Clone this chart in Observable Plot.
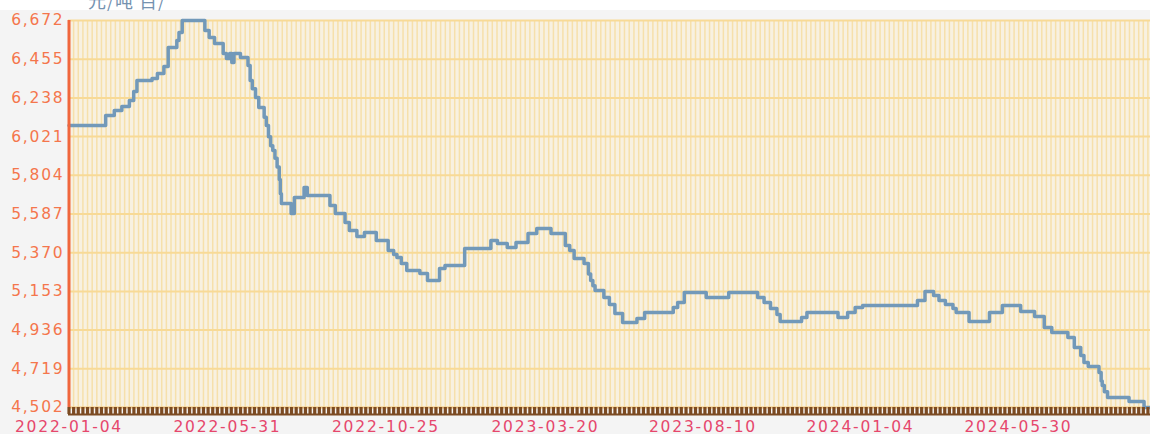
<!DOCTYPE html>
<html><head><meta charset="utf-8">
<script src="https://cdn.jsdelivr.net/npm/d3@7"></script>
<script src="https://cdn.jsdelivr.net/npm/@observablehq/plot@0.6"></script>
<style>
html,body{margin:0;padding:0;background:#f4f4f4;width:1150px;height:434px;overflow:hidden;}
#wrap{position:relative;width:1150px;height:434px;}
#topband{position:absolute;left:0;top:0;width:1150px;height:10px;background:#fff;}
#unit{position:absolute;left:88px;top:-13px;font:18px "Noto Sans CJK SC",sans-serif;color:#7592b0;z-index:2;letter-spacing:1px;}
#chart{position:absolute;left:0;top:0;}
</style></head><body>
<div id="wrap"><div id="topband"></div><div id="unit">元/吨 百/</div><div id="chart"></div></div>
<script>
const dates = ["2022-01-04","2022-02-07","2022-02-15","2022-02-22","2022-03-01","2022-03-05","2022-03-08","2022-03-22","2022-03-27","2022-04-02","2022-04-06","2022-04-14","2022-04-16","2022-04-19","2022-05-10","2022-05-14","2022-05-19","2022-05-27","2022-05-30","2022-06-02","2022-06-04","2022-06-06","2022-06-12","2022-06-19","2022-06-21","2022-06-23","2022-06-26","2022-06-29","2022-07-04","2022-07-06","2022-07-08","2022-07-10","2022-07-12","2022-07-14","2022-07-16","2022-07-18","2022-07-19","2022-07-20","2022-07-29","2022-08-01","2022-08-10","2022-08-13","2022-09-03","2022-09-08","2022-09-17","2022-09-21","2022-09-28","2022-10-05","2022-10-16","2022-10-27","2022-11-01","2022-11-04","2022-11-08","2022-11-13","2022-11-25","2022-12-02","2022-12-13","2022-12-18","2023-01-05","2023-01-29","2023-02-04","2023-02-13","2023-02-21","2023-03-04","2023-03-12","2023-03-25","2023-04-07","2023-04-11","2023-04-15","2023-04-24","2023-04-28","2023-04-30","2023-05-02","2023-05-04","2023-05-12","2023-05-17","2023-05-22","2023-05-29","2023-06-11","2023-06-18","2023-07-14","2023-07-18","2023-07-24","2023-08-13","2023-09-03","2023-09-30","2023-10-06","2023-10-12","2023-10-18","2023-10-21","2023-11-10","2023-11-15","2023-12-14","2023-12-23","2023-12-30","2024-01-06","2024-02-26","2024-03-04","2024-03-12","2024-03-17","2024-03-23","2024-03-30","2024-04-02","2024-04-14","2024-05-03","2024-05-15","2024-06-01","2024-06-14","2024-06-23","2024-06-30","2024-07-15","2024-07-21","2024-07-27","2024-07-30","2024-08-03","2024-08-13","2024-08-15","2024-08-16","2024-08-18","2024-08-21","2024-09-10","2024-09-24","2024-09-30"];
const values = [6083,6139,6167,6190,6223,6274,6336,6347,6375,6414,6521,6560,6605,6672,6616,6577,6543,6487,6459,6487,6437,6487,6465,6420,6336,6290,6240,6184,6130,6083,6020,5970,5943,5900,5850,5780,5700,5646,5590,5680,5736,5691,5635,5590,5539,5495,5461,5483,5438,5382,5360,5343,5309,5270,5253,5214,5281,5298,5394,5438,5422,5399,5427,5478,5506,5478,5410,5382,5338,5309,5250,5214,5185,5158,5119,5080,5029,4979,5001,5035,5063,5091,5147,5119,5147,5119,5091,5057,5024,4984,5007,5035,5007,5035,5063,5074,5102,5153,5130,5102,5080,5057,5035,4984,5035,5074,5040,5012,4951,4923,4895,4839,4794,4755,4732,4698,4650,4625,4590,4558,4536,4502,4502];
const xTickLabels = ["2022-01-04","2022-05-31","2022-10-25","2023-03-20","2023-08-10","2024-01-04","2024-05-30"];
const xEnd = "2024-09-30";
const yTicks = [4502,4719,4936,5153,5370,5587,5804,6021,6238,6455,6672];

const parse = d3.utcParse("%Y-%m-%d");
const data = dates.map((d, i) => ({date: parse(d), value: values[i]}));
const labelDates = xTickLabels.map(parse);
const start = labelDates[0], end = parse(xEnd);
const stripes = d3.range(+start, +end, 4.3 * 864e5).map(t => new Date(t));

const brown = "#7b4a22";
const chart = Plot.plot({
  width: 1150,
  height: 434,
  marginLeft: 68,
  marginRight: 0,
  marginTop: 20,
  marginBottom: 27,
  style: {fontFamily: "DejaVu Sans", fontSize: "15.5px", letterSpacing: "1.8px", background: "transparent", overflow: "visible"},
  x: {type: "utc", domain: [...labelDates, end], range: [68.5, 227, 385.5, 545, 702.5, 860, 1018, 1150], label: null},
  y: {domain: [4502, 6672], label: null},
  marks: [
    Plot.frame({fill: "#f8f1e1", stroke: "none"}),
    Plot.gridX(stripes, {stroke: "#f6e0ab", strokeOpacity: 1, strokeWidth: 1.5}),
    Plot.gridY(yTicks, {stroke: "#f8da96", strokeOpacity: 1, strokeWidth: 2}),
    Plot.ruleY([4502], {stroke: "#efc384", strokeWidth: 1.5}),
    Plot.line(data, {x: "date", y: "value", curve: "step-after", stroke: "#7299b9", strokeWidth: 3.5}),
    Plot.ruleX([start], {stroke: "#f0663c", strokeWidth: 3}),
    Plot.axisX(stripes, {tickSize: 7, stroke: brown, strokeWidth: 3.2, strokeOpacity: 1, tickFormat: () => "", label: null}),
    Plot.ruleY([4502], {stroke: brown, strokeWidth: 2, dy: 7}),
    Plot.axisX(labelDates, {tickSize: 0, tickPadding: 13, tickFormat: d3.utcFormat("%Y-%m-%d"), color: "#e6476c", fontSize: 15.5, label: null}),
    Plot.axisY(yTicks, {tickSize: 0, tickPadding: 4, tickFormat: d3.format(","), color: "#f4764c", fontSize: 15.5, label: null})
  ]
});
document.getElementById("chart").appendChild(chart);
</script>
</body></html>
